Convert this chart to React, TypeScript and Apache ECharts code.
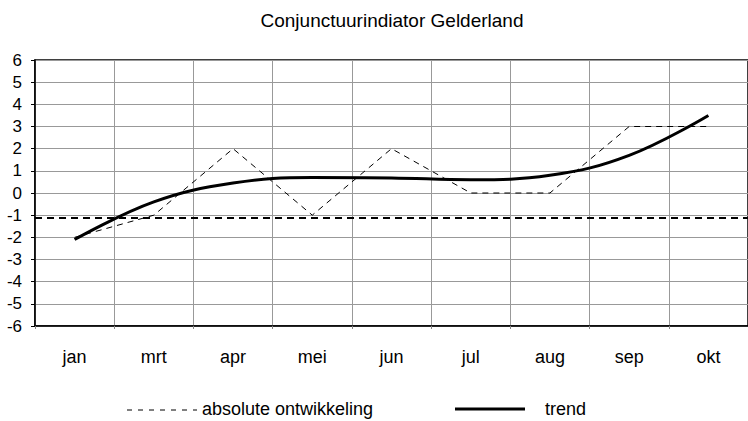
import React, { useEffect, useRef } from "react";
import * as echarts from "echarts";

const months = ["jan", "mrt", "apr", "mei", "jun", "jul", "aug", "sep", "okt"];
const absoluteValues = [-2, -1, 2, -1, 2, 0, 0, 3, 3];
const trendValues = [-2.1, -0.4, 0.45, 0.7, 0.68, 0.6, 0.8, 1.7, 3.5];
const referenceLevel = -1.1;
const titleText = "Conjunctuurindiator Gelderland";
const seriesNames = ["absolute ontwikkeling", "trend"];

const FONT = "'Liberation Sans', Arial, sans-serif";

export default function App() {
  const ref = useRef<HTMLDivElement>(null);
  useEffect(() => {
    if (!ref.current) return;
    const chart = echarts.init(ref.current, undefined, { renderer: "svg" });
    chart.setOption({
      animation: false,
      backgroundColor: "#ffffff",
      textStyle: { fontFamily: FONT, color: "#000" },
      title: {
        text: titleText,
        left: 387,
        textAlign: "center",
        top: 6,
        textStyle: { fontFamily: FONT, fontSize: 19, fontWeight: "normal", color: "#000" },
      },
      grid: {
        left: 35,
        top: 60,
        width: 717,
        height: 266,
        show: true,
        borderColor: "#000",
        borderWidth: 1.5,
        backgroundColor: "transparent",
      },
      xAxis: {
        type: "category",
        data: months,
        boundaryGap: true,
        axisLine: { show: true, onZero: false, lineStyle: { color: "#000", width: 1.5 } },
        axisTick: { show: true, length: 3, lineStyle: { color: "#888" } },
        axisLabel: { fontFamily: FONT, fontSize: 18, color: "#000", margin: 22 },
        splitLine: { show: true, lineStyle: { color: "#999", width: 1 } },
      },
      yAxis: {
        type: "value",
        min: -6,
        max: 6,
        interval: 1,
        axisLine: { show: true, onZero: false, lineStyle: { color: "#000", width: 1.5 } },
        axisTick: { show: true, length: 4, lineStyle: { color: "#000" } },
        axisLabel: { fontFamily: FONT, fontSize: 17, color: "#000", margin: 13 },
        splitLine: { show: true, lineStyle: { color: "#999", width: 1 } },
      },
      graphic: [
        {
          type: "line",
          shape: { x1: 127, y1: 410, x2: 197, y2: 410 },
          style: { stroke: "#000", lineWidth: 1, lineDash: [5, 6] },
          silent: true,
        },
        {
          type: "text",
          x: 202,
          y: 409,
          style: {
            text: seriesNames[0],
            fontFamily: FONT,
            fontSize: 18,
            fill: "#000",
            verticalAlign: "middle",
            align: "left",
          },
          silent: true,
        },
        {
          type: "line",
          shape: { x1: 455, y1: 409, x2: 525, y2: 409 },
          style: { stroke: "#000", lineWidth: 3 },
          silent: true,
        },
        {
          type: "text",
          x: 545,
          y: 409,
          style: {
            text: seriesNames[1],
            fontFamily: FONT,
            fontSize: 18,
            fill: "#000",
            verticalAlign: "middle",
            align: "left",
          },
          silent: true,
        },
      ],
      series: [
        {
          name: seriesNames[0],
          type: "line",
          data: absoluteValues,
          showSymbol: false,
          symbol: "none",
          itemStyle: { color: "#000" },
          lineStyle: { color: "#000", width: 1, type: [6, 5] },
          markLine: {
            silent: true,
            symbol: "none",
            label: { show: false },
            data: [{ yAxis: referenceLevel }],
            lineStyle: { color: "#000", width: 2, type: [7, 5] },
          },
        },
        {
          name: seriesNames[1],
          type: "line",
          data: trendValues,
          smooth: 0.4,
          showSymbol: false,
          symbol: "none",
          itemStyle: { color: "#000" },
          lineStyle: { color: "#000", width: 3 },
        },
      ],
    });
    return () => chart.dispose();
  }, []);
  return <div ref={ref} style={{ width: 748, height: 421, position: "absolute", left: 0, top: 0 }} />;
}
